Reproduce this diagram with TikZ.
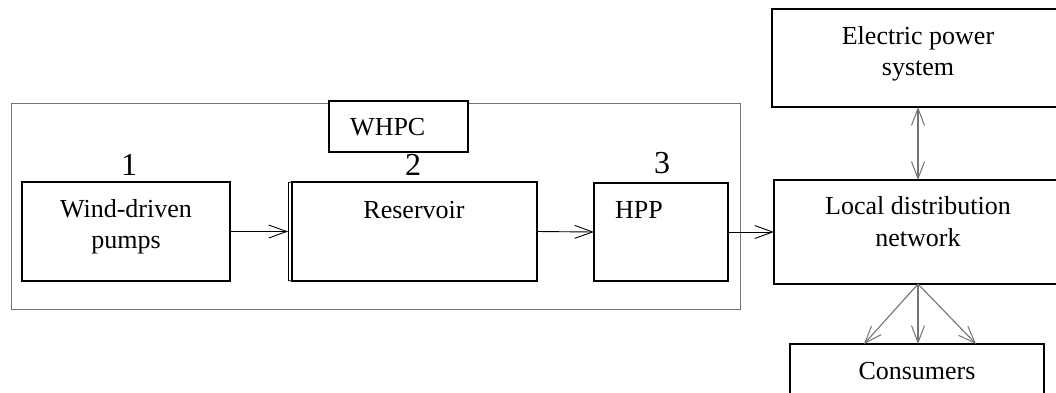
\documentclass[tikz,border=0pt]{standalone}
\usepackage{fontspec}
\setmainfont{Liberation Serif}
\usetikzlibrary{arrows.meta}
\begin{document}
\begin{tikzpicture}[x=1pt,y=-1pt,
  box/.style={draw,line width=2.4pt,inner sep=0pt,outer sep=0pt},
  txt/.style={inner sep=0pt,anchor=base,font=\fontsize{26}{32}\selectfont},
  num/.style={inner sep=0pt,anchor=base,font=\fontsize{32}{36}\selectfont},
  flow/.style={line width=0.9pt,-{Straight Barb[length=18pt,width=13pt,line width=0.9pt]}},
  gflow/.style={line width=1.1pt,draw=black!55,-{Straight Barb[length=17pt,width=13pt,line width=1pt]}},
  gboth/.style={line width=1.1pt,draw=black!55,{Straight Barb[length=17pt,width=13pt,line width=1pt]}-{Straight Barb[length=17pt,width=13pt,line width=1pt]}}]
\clip (0,0) rectangle (1056,392);
\fill[white] (0,0) rectangle (1056,392);
% outer WHPC frame
\node[draw=black!55,line width=1pt,inner sep=0pt,minimum width=729pt,minimum height=206pt] (outer) at (375.5,206) {};
\node[draw,line width=1.8pt,inner sep=0pt,fill=white,minimum width=139pt,minimum height=51pt] (whpc) at (398.5,126.5) {};
\node[txt,anchor=base west] (whpct) at (350,135) {WHPC};
% blocks
\node[box,minimum width=208pt,minimum height=99pt] (b1) at (126,231.5) {};
\node[box,minimum width=245pt,minimum height=99pt] (b2) at (414.5,231.5) {};
\node[box,minimum width=134pt,minimum height=98pt] (b3) at (661,232) {};
\node[box,minimum width=288pt,minimum height=104pt] (ldn) at (918,232) {};
\node[box,minimum width=292pt,minimum height=98pt] (eps) at (918,58) {};
\node[box,minimum width=254pt,minimum height=66pt] (cons) at (917,377) {};
% double left edge of reservoir
\draw[line width=0.8pt] ([xshift=-4pt,yshift=-0.5pt]b2.north west) coordinate (b2nw) -- ([xshift=-4pt,yshift=0.5pt]b2.south west) coordinate (b2sw);
\draw[line width=0.8pt] (b2nw) -- (b2.north west) (b2sw) -- (b2.south west);
\coordinate (b2in) at ([xshift=-4pt]b2.west);
% texts
\node[txt] (t1a) at (126,217) {Wind-driven};
\node[txt] (t1b) at (126,248) {pumps};
\node[txt] (t2) at (414,218) {Reservoir};
\node[txt,anchor=base west] (t3) at (615,218) {HPP};
\node[txt] (tla) at (918,214) {Local distribution};
\node[txt] (tlb) at (918,246) {network};
\node[txt] (tea) at (918,44) {Electric power};
\node[txt] (teb) at (918,75) {system};
\node[txt] (tc) at (917,379) {Consumers};
\node[num] (n1) at (129,175) {1};
\node[num] (n2) at (413,175) {2};
\node[num] (n3) at (662,173) {3};
% connectors
\draw[flow] (b1.east) -- (b2in);
\draw[flow] (b2.east) -- (b3.west);
\draw[flow] (b3.east) -- (ldn.west);
\draw[gboth] (eps.south) -- (ldn.north);
\draw[gflow] (ldn.south) -- ([xshift=-53pt]cons.north);
\draw[gflow] (ldn.south) -- ([xshift=1pt]cons.north);
\draw[gflow] (ldn.south) -- ([xshift=59pt]cons.north);
\end{tikzpicture}
\end{document}
